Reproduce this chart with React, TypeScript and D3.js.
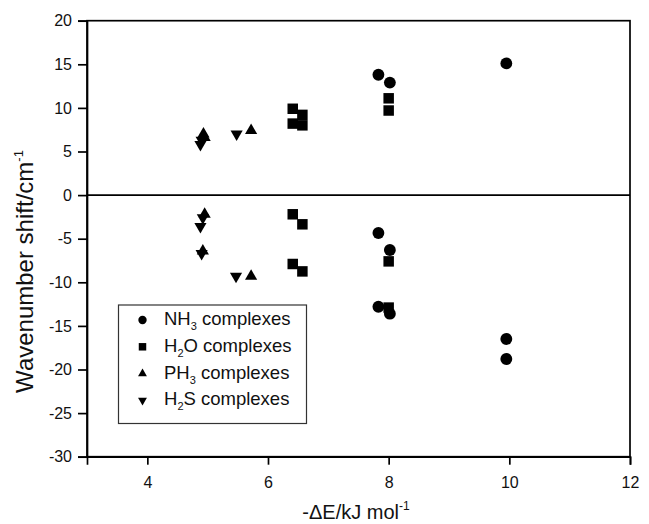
import React, { useRef, useEffect } from 'react';
import * as d3 from 'd3';

const xTicks = [4, 6, 8, 10, 12];
const yTicks = [-30, -25, -20, -15, -10, -5, 0, 5, 10, 15, 20];

const nh3X = [7.83, 8.02, 9.95, 7.83, 8.02, 7.83, 8.02, 9.95, 9.95];
const nh3Y = [13.8, 12.9, 15.1, -4.35, -6.3, -12.8, -13.6, -16.5, -18.8];

const h2oX = [6.41, 6.57, 6.41, 6.57, 8.0, 8.0, 6.41, 6.57, 6.41, 6.57, 8.0, 8.0];
const h2oY = [9.9, 9.2, 8.2, 8.0, 11.1, 9.7, -2.2, -3.35, -7.9, -8.75, -7.6, -12.9];

const ph3X = [4.93, 4.95, 5.72, 4.95, 4.92, 5.72];
const ph3Y = [7.0, 6.6, 7.4, -2.2, -6.4, -9.3];

const h2sX = [4.9, 4.88, 5.48, 4.92, 4.88, 4.9, 5.47];
const h2sY = [6.3, 5.8, 7.0, -2.6, -3.6, -6.7, -9.3];

// legend text pieces: before subscript, subscript, after
const legendText = [
    ['NH', '3', ' complexes'],
    ['H', '2', 'O complexes'],
    ['PH', '3', ' complexes'],
    ['H', '2', 'S complexes'],
];

const App = () => {
    const svgRef = useRef<SVGSVGElement>(null);

    useEffect(() => {
        const svg = d3.select(svgRef.current);
        svg.selectAll('*').remove();
        const left = 87, right = 630, top = 20.7, bottom = 456.7;
        const font = 'Arial, "Liberation Sans", sans-serif';

        const x = d3.scaleLinear().domain([3, 12]).range([left, right]);
        const y = d3.scaleLinear().domain([-30, 20]).range([bottom, top]);

        const series = [
            { xs: nh3X, ys: nh3Y, type: d3.symbolCircle, size: 110, lsize: 55, rot: 0 },
            { xs: h2oX, ys: h2oY, type: d3.symbolSquare, size: 110, lsize: 56, rot: 0 },
            { xs: ph3X, ys: ph3Y, type: d3.symbolTriangle, size: 64, lsize: 34, rot: 0 },
            { xs: h2sX, ys: h2sY, type: d3.symbolTriangle, size: 64, lsize: 34, rot: 180 },
        ];

        // frame + zero line
        svg.append('rect')
            .attr('x', left).attr('y', top)
            .attr('width', right - left).attr('height', bottom - top)
            .attr('fill', 'none').attr('stroke', '#000').attr('stroke-width', 1.7);
        svg.append('line')
            .attr('x1', left).attr('x2', right)
            .attr('y1', y(0)).attr('y2', y(0))
            .attr('stroke', '#000').attr('stroke-width', 1.7);

        const gy = svg.append('g')
            .attr('transform', `translate(${left},0)`)
            .call(d3.axisLeft(y).tickValues(yTicks).tickSize(9).tickPadding(6).tickFormat(d3.format('d')));
        const gx = svg.append('g')
            .attr('transform', `translate(0,${bottom})`)
            .call(d3.axisBottom(x).tickValues(xTicks).tickSize(8).tickPadding(12));
        [gx, gy].forEach(g => {
            g.select('.domain').attr('stroke-width', 1.7);
            g.selectAll('.tick line').attr('stroke-width', 1.7);
            g.selectAll('.tick text')
                .attr('font-family', font).attr('font-size', 16).attr('fill', '#111');
        });
        gy.selectAll('.tick text').text((d: any) => String(d).replace('\u2212', '-'));

        // points
        series.forEach(s => {
            const sym = d3.symbol().type(s.type).size(s.size);
            svg.append('g').selectAll('path')
                .data(s.xs.map((v, i) => [v, s.ys[i]]))
                .enter().append('path')
                .attr('d', sym)
                .attr('transform', d => `translate(${x(d[0])},${y(d[1])}) rotate(${s.rot})`)
                .attr('fill', '#000');
        });

        // legend
        const lg = svg.append('g');
        lg.append('rect')
            .attr('x', 118.5).attr('y', 305)
            .attr('width', 188).attr('height', 118.5)
            .attr('fill', '#fff').attr('stroke', '#333').attr('stroke-width', 1.2);
        legendText.forEach((t, i) => {
            const s = series[i];
            const base = 325 + i * 26.8;
            lg.append('path')
                .attr('d', d3.symbol().type(s.type).size(s.lsize)())
                .attr('transform', `translate(142.5,${base - 5}) rotate(${s.rot})`)
                .attr('fill', '#000');
            const tx = lg.append('text')
                .attr('x', 164).attr('y', base)
                .attr('font-family', font).attr('font-size', 18.5).attr('fill', '#111');
            tx.append('tspan').text(t[0]);
            tx.append('tspan').attr('dy', 5).attr('font-size', 11).text(t[1]);
            tx.append('tspan').attr('dy', -5).text(t[2]);
        });

        // axis titles
        const xl = svg.append('text')
            .attr('x', 356).attr('y', 519)
            .attr('text-anchor', 'middle')
            .attr('font-family', font).attr('font-size', 20).attr('fill', '#111');
        xl.append('tspan').text('-\u0394E/kJ mol');
        xl.append('tspan').attr('dy', -9).attr('font-size', 12).text('-1');

        const yl = svg.append('text')
            .attr('transform', 'translate(33,271.5) rotate(-90)')
            .attr('text-anchor', 'middle')
            .attr('font-family', font).attr('font-size', 24).attr('fill', '#111');
        yl.append('tspan').text('Wavenumber shift/cm');
        yl.append('tspan').attr('dy', -10).attr('font-size', 13).text('-1');
    }, []);

    return (
        <svg ref={svgRef} width={649} height={524}
            style={{ position: 'absolute', left: 0, top: 0, background: '#fff' }} />
    );
};

export default App;
